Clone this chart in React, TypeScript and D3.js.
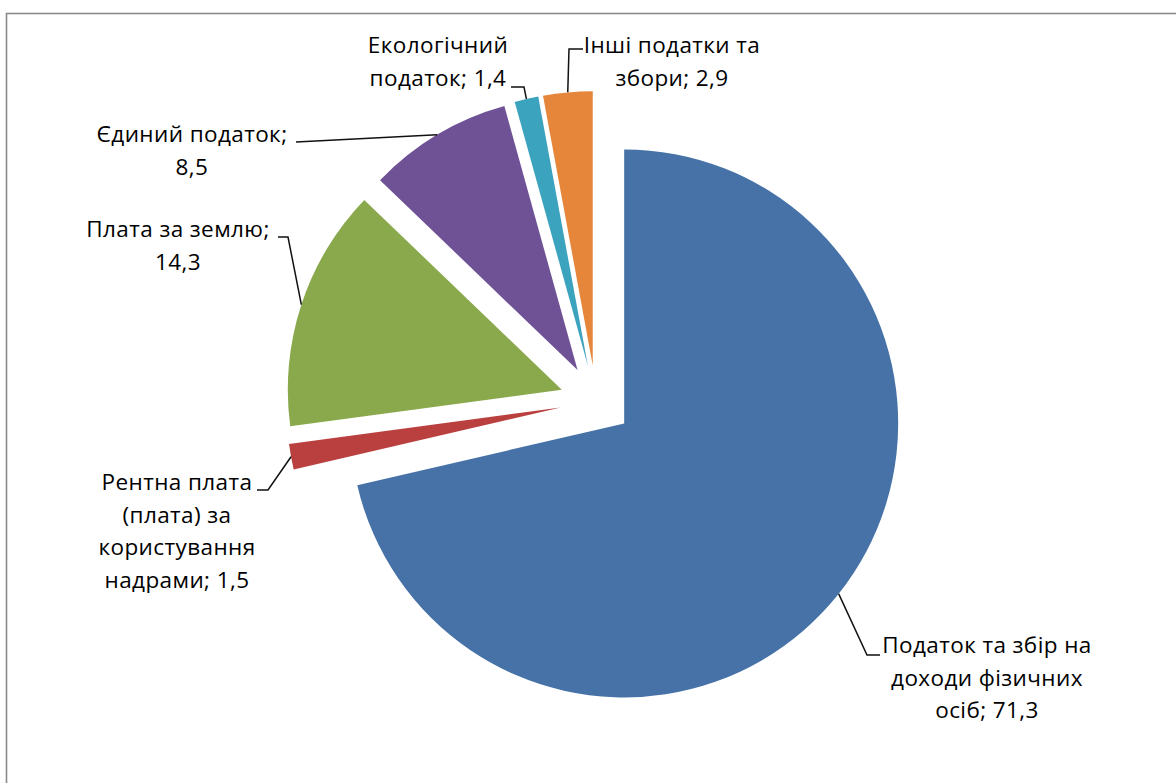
import React, { useEffect, useRef } from 'react';
import * as d3 from 'd3';

// Структура податкових надходжень, %
const categories = [
  'Податок та збір на доходи фізичних осіб',
  'Рентна плата (плата) за користування надрами',
  'Плата за землю',
  'Єдиний податок',
  'Екологічний податок',
  'Інші податки та збори',
];
const values = [71.3, 1.5, 14.3, 8.5, 1.4, 2.9];
const colors = ['#4672a8', '#b9403f', '#8aa84c', '#6f5196', '#3ca3bf', '#e5863a'];

// label layout: centre x, first baseline, wrap width (chars), leader start + elbow
const labelLayout = [
  { x: 987, y: 653, wrap: 18, start: [880, 655], elbow: [867, 655] },
  { x: 177, y: 490, wrap: 12, start: [257, 490], elbow: [268, 490] },
  { x: 178, y: 237, wrap: 15, start: [278, 237], elbow: [288, 237] },
  { x: 192, y: 142, wrap: 15, start: [296, 142], elbow: [296, 142] },
  { x: 438, y: 53, wrap: 12, start: [511, 87], elbow: [524, 87] },
  { x: 672, y: 53, wrap: 15, start: [583, 49], elbow: [569, 49] },
];

const fmt = (v: number) => String(v).replace('.', ',');

function wrap(text: string, max: number) {
  const words = text.split(' ');
  const lines: string[] = [];
  let cur = '';
  words.forEach(w => {
    const next = cur ? cur + ' ' + w : w;
    if (next.length > max && cur) {
      lines.push(cur);
      cur = w;
    } else cur = next;
  });
  if (cur) lines.push(cur);
  return lines;
}

export default function App() {
  const svgRef = useRef<SVGSVGElement>(null);

  useEffect(() => {
    if (!svgRef.current) return;
    const width = 1176;
    const height = 783;
    const cx = 596;
    const cy = 401;
    const radius = 274;
    const explode = 36;

    const svg = d3.select(svgRef.current);
    svg.selectAll('*').remove();
    svg.attr('width', width).attr('height', height);

    svg.append('rect')
      .attr('x', 6.5).attr('y', 13.5)
      .attr('width', width + 20).attr('height', height + 20)
      .attr('fill', '#fff')
      .attr('stroke', '#8a8a8a')
      .attr('stroke-width', 1.6);

    const data = values.map((v, i) => ({ name: categories[i], value: v, i }));
    const pie = d3.pie<typeof data[number]>().sort(null).value(d => d.value).startAngle(0);
    const arcs = pie(data);
    const arc = d3.arc<d3.PieArcDatum<typeof data[number]>>().innerRadius(0).outerRadius(radius);

    const offset = (a: d3.PieArcDatum<any>) => {
      const mid = (a.startAngle + a.endAngle) / 2;
      return [cx + explode * Math.sin(mid), cy - explode * Math.cos(mid)];
    };

    const g = svg.append('g');
    g.selectAll('path.slice')
      .data(arcs)
      .enter()
      .append('path')
      .attr('class', 'slice')
      .attr('d', d => arc(d) || '')
      .attr('transform', d => {
        const [ox, oy] = offset(d);
        return `translate(${ox},${oy})`;
      })
      .attr('fill', d => colors[d.data.i]);

    // leader lines
    const line = d3.line();
    arcs.forEach(a => {
      const L = labelLayout[a.data.i];
      const mid = (a.startAngle + a.endAngle) / 2;
      const [ox, oy] = offset(a);
      const end: [number, number] = [ox + radius * Math.sin(mid), oy - radius * Math.cos(mid)];
      svg.append('path')
        .attr('d', line([L.start as [number, number], L.elbow as [number, number], end]) || '')
        .attr('fill', 'none')
        .attr('stroke', '#111')
        .attr('stroke-width', 1.5);
    });

    // labels
    arcs.forEach(a => {
      const L = labelLayout[a.data.i];
      const lines = wrap(`${a.data.name}; ${fmt(a.data.value)}`, L.wrap);
      const t = svg.append('text')
        .attr('x', L.x)
        .attr('y', L.y)
        .attr('text-anchor', 'middle')
        .attr('font-family', '"Open Sans", sans-serif')
        .attr('font-size', 22.5)
        .attr('letter-spacing', 0.4)
        .attr('fill', '#000');
      lines.forEach((ln, k) => {
        t.append('tspan')
          .attr('x', L.x)
          .attr('y', L.y + k * 32.5)
          .text(ln);
      });
    });
  }, []);

  return (
    <div style={{ position: 'fixed', left: 0, top: 0, width: 1176, height: 783, overflow: 'hidden', background: '#fff' }}>
      <svg ref={svgRef} style={{ display: 'block' }}></svg>
    </div>
  );
}
